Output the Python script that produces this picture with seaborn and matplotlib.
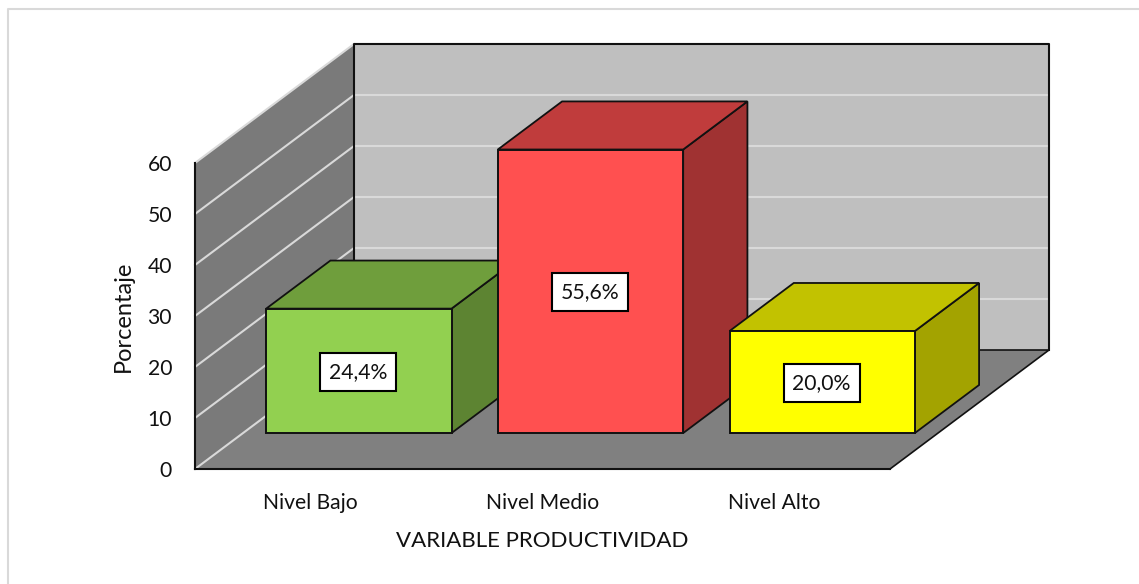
import matplotlib
matplotlib.use("Agg")
import matplotlib.pyplot as plt
import numpy as np
import pandas as pd
import seaborn as sns
from matplotlib.lines import Line2D
from matplotlib.patches import Polygon
from matplotlib.transforms import Affine2D, offset_copy

categories = ["Nivel Bajo", "Nivel Medio", "Nivel Alto"]
values = [24.4, 55.6, 20.0]
value_labels = ["24,4%", "55,6%", "20,0%"]
front_colors = ["#92d050", "#ff5050", "#ffff00"]
top_colors = ["#6f9e3c", "#c03c3c", "#c2c200"]
side_colors = ["#5d8432", "#a03232", "#a3a300"]
y_ticks = [0, 10, 20, 30, 40, 50, 60]

sns.set_theme(style="white")
plt.rcParams["font.family"] = ["Lato", "DejaVu Sans"]

W, H = 1139, 584
fig = plt.figure(figsize=(W / 100, H / 100), dpi=100, facecolor="white")
# Front plane of the box: the axis scale lives here, everything else is projected back from it
left, right, bottom, top = 195, 890, 469, 163
ax = fig.add_axes([left / W, 1 - bottom / H, (right - left) / W, (bottom - top) / H])
ax.set_xlim(-0.5, 2.5)
ax.set_ylim(0, 60)
ax.patch.set_alpha(0)

# Oblique projection: depth 0 is the front plane, depth 1 the back wall
DX = 159 / ((right - left) / 3)
DY = 119 / ((bottom - top) / 60)
BAR_FRONT, BAR_BACK = 0.302, 0.706
XMIN, XMAX, YMAX = -0.5, 2.5, 60


def proj(x, y, d):
    return x + d * DX, y + d * DY


def face(points, color, z, edge="none", lw=0):
    ax.add_patch(Polygon([proj(*p) for p in points], closed=True, facecolor=color,
                         edgecolor=edge, linewidth=lw, zorder=z, clip_on=False,
                         joinstyle="miter"))


def edge_line(points, color="#111111", lw=1.5, z=1.6):
    xs, ys = zip(*[proj(*p) for p in points])
    ax.plot(xs, ys, color=color, lw=lw, zorder=z, clip_on=False, solid_capstyle="projecting")


# Bars first, so the list of rectangles holds nothing but seaborn's front faces
data = pd.DataFrame({"nivel": categories, "porcentaje": values})
sns.barplot(data=data, x="nivel", y="porcentaje", hue="nivel", palette=front_colors,
            order=categories, hue_order=categories, width=0.8, saturation=1,
            edgecolor="#111111", linewidth=1.4, legend=False, ax=ax)
ax.set_xlim(-0.5, 2.5)
ax.set_ylim(0, 60)
bars = sorted([p for p in ax.patches if p.get_width() > 0], key=lambda p: p.get_x())

# Walls and floor
face([(XMIN, 0, 1), (XMAX, 0, 1), (XMAX, YMAX, 1), (XMIN, YMAX, 1)], "#bfbfbf", 1)
face([(XMIN, 0, 0), (XMIN, 0, 1), (XMIN, YMAX, 1), (XMIN, YMAX, 0)], "#7a7a7a", 1)
face([(XMIN, 0, 0), (XMAX, 0, 0), (XMAX, 0, 1), (XMIN, 0, 1)], "#808080", 1.2)

# Gridlines run across the side wall and along the back wall
for t in y_ticks:
    if t > 0:
        edge_line([(XMIN, t, 1), (XMAX, t, 1)], "#d9d9d9", 1.5, 1.1)
    edge_line([(XMIN, t, 0), (XMIN, t, 1)], "#d9d9d9", 1.5, 1.25)

# Box outline
edge_line([(XMIN, 0, 1), (XMIN, YMAX, 1), (XMAX, YMAX, 1), (XMAX, 0, 1)])
edge_line([(XMIN, 0, 1), (XMAX, 0, 1), (XMAX, 0, 0)], lw=1.2)

# Shift each front face to its depth inside the box and add its top and side
front_shift = Affine2D().translate(BAR_FRONT * DX, BAR_FRONT * DY) + ax.transData
label_trans = offset_copy(ax.transData, fig=fig, x=-0.5, y=-1, units="dots")
for i, (bar, label) in enumerate(zip(bars, value_labels)):
    x0, x1 = bar.get_x(), bar.get_x() + bar.get_width()
    h = bar.get_height()
    z = 3 + i
    bar.set_transform(front_shift)
    bar.set_zorder(z + 0.2)
    bar.set_clip_on(False)
    bar.set_joinstyle("miter")
    face([(x1, 0, BAR_FRONT), (x1, 0, BAR_BACK), (x1, h, BAR_BACK), (x1, h, BAR_FRONT)],
         side_colors[i], z, "#111111", 1.3)
    face([(x0, h, BAR_FRONT), (x1, h, BAR_FRONT), (x1, h, BAR_BACK), (x0, h, BAR_BACK)],
         top_colors[i], z + 0.1, "#111111", 1.3)
    cx, cy = proj((x0 + x1) / 2, h / 2, BAR_FRONT)
    ax.text(cx, cy, label, ha="center", va="center", fontsize=15.2, color="#111111",
            zorder=10, transform=label_trans,
            bbox=dict(boxstyle="square,pad=0.42", facecolor="white",
                      edgecolor="black", linewidth=1.5))

# Axis styling
ax.set_xticks(range(len(categories)), categories)
ax.set_yticks(y_ticks)
ax.tick_params(axis="both", length=0, labelsize=15.2, labelcolor="#111111")
ax.tick_params(axis="x", pad=17)
ax.tick_params(axis="y", pad=16.5)
ax.set_xlabel("VARIABLE PRODUCTIVIDAD", fontsize=16, color="#111111")
ax.set_ylabel("Porcentaje", fontsize=17, color="#111111")
ax.xaxis.set_label_coords(0.5, -0.203)
ax.yaxis.set_label_coords(-0.088, 0.5)
for name, spine in ax.spines.items():
    spine.set_visible(name in ("left", "bottom"))
    spine.set_color("#111111")
    spine.set_linewidth(1.5)
    spine.set_zorder(2)

# Light frame along the top and left of the chart area
fig.add_artist(Line2D([8 / W, 8 / W, 1], [0, 1 - 9 / H, 1 - 9 / H], transform=fig.transFigure,
                      color="#d9d9d9", linewidth=1.5, zorder=0))

fig.savefig("out.png", dpi=100)
